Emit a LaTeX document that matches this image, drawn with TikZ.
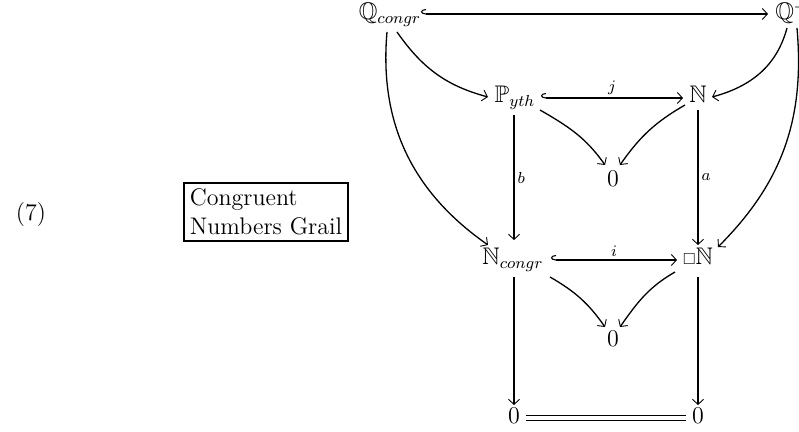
\documentclass[tikz,border=0pt]{standalone}
\usepackage{amssymb}
\usetikzlibrary{arrows.meta}
\begin{document}
\begin{tikzpicture}[x=0.5pt,y=-0.5pt,
  every node/.append style={font=\fontsize{12}{14.5}\selectfont},
  obj/.style={inner sep=1pt, anchor=base},
  tipb/.tip={Straight Barb[length=2.5pt,width=5.5pt,line width=0.45pt]},
  ar/.style={line width=0.65pt, -tipb},
  hk/.style={line width=0.65pt, {Hooks[right,length=2.5pt,width=5pt,line width=0.55pt]}-tipb},
  lab/.style={inner sep=1.5pt}]
\useasboundingbox (0,0) rectangle (799,432);

\node[obj] (Qc) at (390,20) {$\mathbb{Q}_{congr}$};
\node[obj, anchor=base west] (Qp) at (773,20) {$\mathbb{Q}^{+}$};
\node[obj] (Py) at (515,103) {$\mathbb{P}_{yth}$};
\node[obj] (N1) at (698,103) {$\mathbb{N}$};
\node[obj] (Z1) at (613,187) {$0$};
\node[obj] (Nc) at (513,265) {$\mathbb{N}_{congr}$};
\node[obj] (BN) at (698,265) {${\scriptstyle\square}\mathbb{N}$};
\node[obj] (Z2) at (613,347) {$0$};
\node[obj] (Z3) at (514,424) {$0$};
\node[obj] (Z4) at (698,424) {$0$};

\node (eq) at (31,215) {(7)};
\node[draw, line width=0.8pt, align=left, inner sep=3pt, anchor=east] (grail) at (349,212) {Congruent\\Numbers Grail};

% top row
\draw[hk] ([shift={(31,-6)}]Qc.base) -- ([shift={(-5,-6)}]Qp.base west);
\draw[ar] ([shift={(7,12)}]Qc.base) to[out=-55,in=165] ([shift={(-27,-6)}]Py.base);
\draw[ar] ([shift={(-3,12)}]Qc.base) to[out=-95,in=145] ([shift={(-25,-20)}]Nc.base);
\draw[ar] ([shift={(14,8)}]Qp.base west) to[out=-105,in=15] ([shift={(14,-6)}]N1.base);
\draw[ar] ([shift={(24,8)}]Qp.base west) to[out=-85,in=45] ([shift={(20,-18)}]BN.base);

% middle square
\draw[hk] ([shift={(26,-5)}]Py.base) -- node[lab,above]{$\scriptstyle j$} ([shift={(-15,-5)}]N1.base);
\draw[ar] ([shift={(25,7)}]Py.base) to[out=-30,in=125] ([shift={(-8,-22)}]Z1.base);
\draw[ar] ([shift={(-13,2)}]N1.base) to[out=-150,in=55] ([shift={(7,-22)}]Z1.base);
\draw[ar] ([shift={(-1,12)}]Py.base) -- node[lab,right]{$\scriptstyle b$} ([shift={(1,-25)}]Nc.base);
\draw[ar] ([shift={(0,7)}]N1.base) -- node[lab,right]{$\scriptstyle a$} ([shift={(0,-20)}]BN.base);

% lower square
\draw[hk] ([shift={(38,-5)}]Nc.base) -- node[lab,above]{$\scriptstyle i$} ([shift={(-21,-5)}]BN.base);
\draw[ar] ([shift={(37,12)}]Nc.base) to[out=-30,in=125] ([shift={(-8,-20)}]Z2.base);
\draw[ar] ([shift={(-23,7)}]BN.base) to[out=-150,in=55] ([shift={(7,-20)}]Z2.base);
\draw[ar] ([shift={(1,12)}]Nc.base) -- ([shift={(0,-19)}]Z3.base);
\draw[ar] ([shift={(0,12)}]BN.base) -- ([shift={(0,-19)}]Z4.base);
\draw[line width=0.55pt, double, double distance=1.6pt] ([shift={(12,-6)}]Z3.base) -- ([shift={(-12,-6)}]Z4.base);
\end{tikzpicture}
\end{document}
